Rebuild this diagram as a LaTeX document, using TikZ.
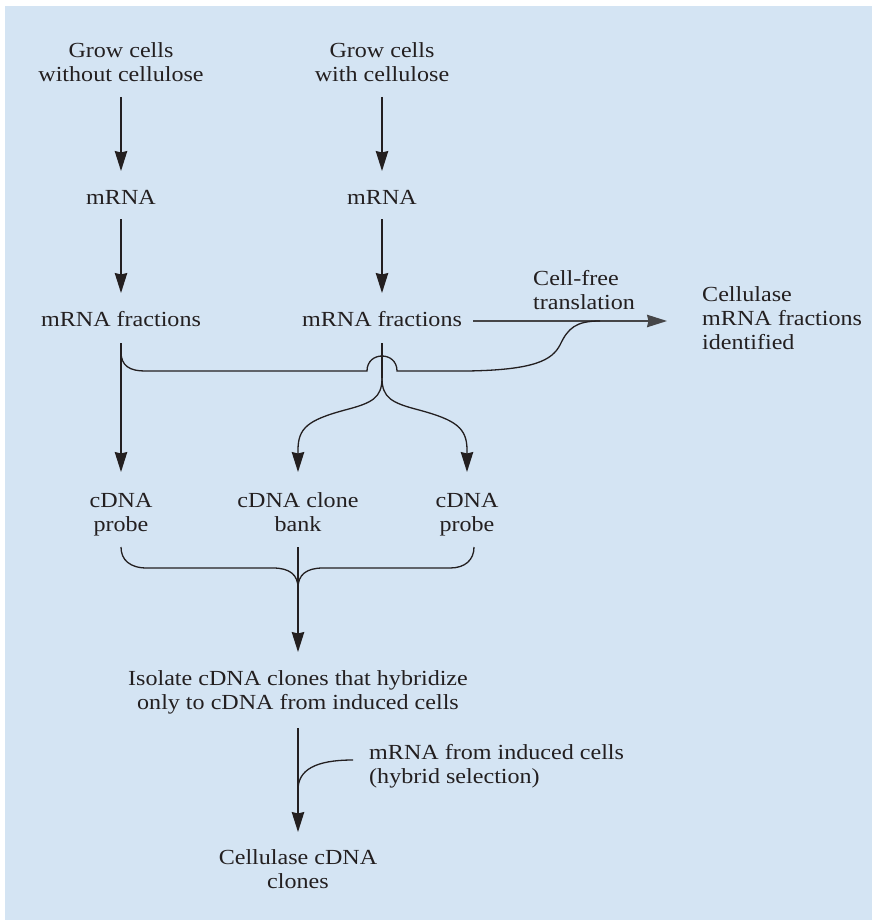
\documentclass[tikz,border=0pt]{standalone}
\usepackage{fontspec}
\setmainfont{Liberation Serif}[FakeStretch=1.12]
\usetikzlibrary{arrows.meta}
\definecolor{bgblue}{RGB}{212,228,243}
\definecolor{ink}{RGB}{35,31,32}
\definecolor{greyink}{RGB}{70,70,72}
\begin{document}
\begin{tikzpicture}[x=1pt,y=-1pt,
  lbl/.style={inner sep=0pt, font=\fontsize{21.5}{24}\selectfont, text=ink, align=center},
  lbll/.style={lbl, anchor=west, align=left},
  flow/.style={draw=ink, line width=1.3pt},
  arr/.style={flow, -{Stealth[length=20pt,width=12.5pt,inset=1.5pt]}}]
\useasboundingbox (0,0) rectangle (873,920);
\fill[white] (0,0) rectangle (873,920);
\fill[bgblue] (5,6) rectangle (872,920);

% labels
\node[lbl] (g1) at (121,62) {Grow cells\\without cellulose};
\node[lbl] (g2) at (382,62) {Grow cells\\with cellulose};
\node[lbl] (m1) at (121,197) {mRNA};
\node[lbl] (m2) at (382,197) {mRNA};
\node[lbl] (f1) at (121,319) {mRNA fractions};
\node[lbl] (f2) at (382,319) {mRNA fractions};
\node[lbll] (cft) at (533,290.5) {Cell-free\\translation};
\node[lbll] (cid) at (702,318) {Cellulase\\mRNA fractions\\identified};
\node[lbl] (p1) at (121,515) {cDNA\\probe};
\node[lbl] (bank) at (298,512) {cDNA clone\\bank};
\node[lbl] (p2) at (467,515) {cDNA\\probe};
\node[lbl] (iso) at (298,692) {Isolate cDNA clones that hybridize\\only to cDNA from induced cells};
\node[lbll] (hyb) at (369,766) {mRNA from induced cells\\(hybrid selection)};
\node[lbl] (ccl) at (298,869) {Cellulase cDNA\\clones};

% connector end points
\coordinate (g1b) at (121,97);  \coordinate (m1t) at (121,171);
\coordinate (m1b) at (121,219); \coordinate (f1t) at (121,293);
\coordinate (g2b) at (382,97);  \coordinate (m2t) at (382,171);
\coordinate (m2b) at (382,219); \coordinate (f2t) at (382,293);
\coordinate (f1b) at (121,343); \coordinate (p1t) at (121,472);
\coordinate (f2b) at (382,343); \coordinate (split) at (382,378);
\coordinate (bankt) at (298,472); \coordinate (p2t) at (467,472);
\coordinate (tr0) at (473,321); \coordinate (tr1) at (667,321);
\coordinate (brL) at (121,352); \coordinate (brR) at (600,321);
\coordinate (p1b) at (121,547); \coordinate (p2b) at (474,547);
\coordinate (bankb) at (298,547); \coordinate (join) at (298,588);
\coordinate (isot) at (298,652); \coordinate (isob) at (298,728);
\coordinate (cclt) at (298,832); \coordinate (hybl) at (353,760);

% vertical steps
\draw[arr] (g1b) -- (m1t);
\draw[arr] (m1b) -- (f1t);
\draw[arr] (g2b) -- (m2t);
\draw[arr] (m2b) -- (f2t);
\draw[arr] (f1b) -- (p1t);

% cell-free translation
\draw[arr, draw=greyink] (tr0) -- (tr1);
\draw[flow] (brL) .. controls (121,366) and (130,371) .. (145,371) -- (367,371)
  .. controls (367,351) and (397,351) .. (397,371) -- (467,371)
  .. controls (535,370) and (552,360) .. (560,345)
  .. controls (568,328) and (576,321) .. (brR);

% split to clone bank and probe
\draw[flow] (f2b) -- (split);
\draw[arr] (split) .. controls (382,398) and (372,403) .. (345,410)
  .. controls (308,420) and (298,428) .. (298,450) -- (bankt);
\draw[arr] (split) .. controls (382,398) and (392,403) .. (419,410)
  .. controls (456,420) and (467,428) .. (467,450) -- (p2t);

% merge brace
\draw[flow] (p1b) .. controls (121,560) and (130,568) .. (147,568) -- (273,568)
  .. controls (290,568) and (298,575) .. (join);
\draw[flow] (p2b) .. controls (474,560) and (465,568) .. (450,568) -- (323,568)
  .. controls (306,568) and (298,575) .. (join);
\draw[arr] (bankb) -- (isot);

% hybrid selection
\draw[arr] (isob) -- (cclt);
\draw[flow] (hybl) .. controls (315,760) and (298,770) .. (298,790);
\end{tikzpicture}
\end{document}
